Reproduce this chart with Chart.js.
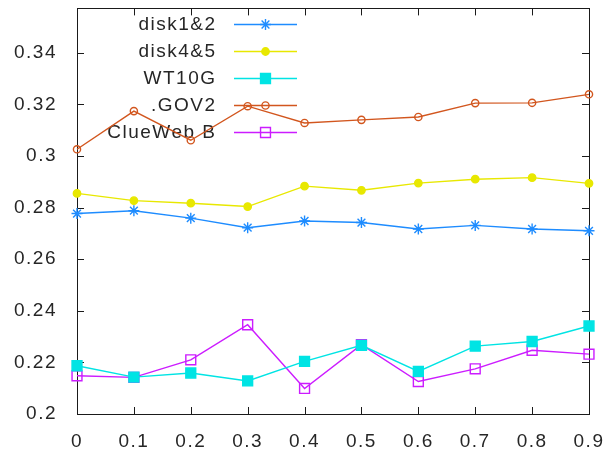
<!DOCTYPE html>
<html>
<head>
<meta charset="utf-8">
<script src="https://cdn.jsdelivr.net/npm/chart.js@4/dist/chart.umd.min.js"></script>
<style>
  html, body { margin: 0; padding: 0; background: #ffffff; }
  #wrap { width: 604px; height: 457px; }
</style>
</head>
<body>
<div id="wrap"><canvas id="chart" width="604" height="457"></canvas></div>
<script>
// x positions (parameter values) and y tick values
const xLabels = ['0', '0.1', '0.2', '0.3', '0.4', '0.5', '0.6', '0.7', '0.8', '0.9'];
const yTicks = [0.2, 0.22, 0.24, 0.26, 0.28, 0.3, 0.32, 0.34];

// one list per collection
const disk12   = [0.2777, 0.2788, 0.2759, 0.2722, 0.2748, 0.2742, 0.2717, 0.2731, 0.2717, 0.2710];
const disk45   = [0.2855, 0.2827, 0.2817, 0.2804, 0.2883, 0.2867, 0.2895, 0.2910, 0.2916, 0.2894];
const wt10g    = [0.2187, 0.2143, 0.2159, 0.2128, 0.2204, 0.2266, 0.2165, 0.2263, 0.2281, 0.2341];
const gov2     = [0.3026, 0.3174, 0.3061, 0.3193, 0.3128, 0.3140, 0.3151, 0.3205, 0.3206, 0.3239];
const clueWebB = [0.2148, 0.2142, 0.2210, 0.2346, 0.2099, 0.2269, 0.2126, 0.2175, 0.2247, 0.2232];

const seriesNames = ['disk1&2', 'disk4&5', 'WT10G', '.GOV2', 'ClueWeb B'];

const FONT = '"Liberation Sans", Arial, sans-serif';
const TEXT = '#262626';
const SPACING = '1.5px';

function series(label, data, color, style, radius, filled) {
  return {
    label, data,
    borderColor: color,
    backgroundColor: color,
    borderWidth: 1.4,
    pointStyle: style,
    pointRadius: radius,
    pointHoverRadius: radius,
    pointBorderWidth: 1.4,
    pointBorderColor: color,
    pointBackgroundColor: filled ? color : 'rgba(0,0,0,0)',
    tension: 0,
    clip: false
  };
}

// slightly wider letter spacing for all canvas text
const spacingPlugin = {
  id: 'spacing',
  beforeUpdate(chart) { chart.ctx.letterSpacing = SPACING; },
  beforeDraw(chart) { chart.ctx.letterSpacing = SPACING; }
};

// plot frame with inward tick marks on all four sides
const framePlugin = {
  id: 'frame',
  beforeDatasetsDraw(chart) {
    const { ctx, chartArea: a, scales } = chart;
    ctx.save();
    ctx.strokeStyle = '#1a1a1a';
    ctx.lineWidth = 1;
    ctx.strokeRect(Math.round(a.left) + 0.5, Math.round(a.top) + 0.5,
                   Math.round(a.right - a.left), Math.round(a.bottom - a.top));
    const t = 7;
    ctx.beginPath();
    yTicks.forEach(v => {
      const y = Math.round(scales.y.getPixelForValue(v)) + 0.5;
      ctx.moveTo(a.left, y); ctx.lineTo(a.left + t, y);
      ctx.moveTo(a.right, y); ctx.lineTo(a.right - t, y);
    });
    xLabels.forEach((_, i) => {
      const x = Math.round(scales.x.getPixelForValue(i)) + 0.5;
      ctx.moveTo(x, a.bottom); ctx.lineTo(x, a.bottom - t);
      ctx.moveTo(x, a.top); ctx.lineTo(x, a.top + t);
    });
    ctx.stroke();
    ctx.restore();
  }
};

// key: label text on the left, line sample with its marker on the right
const keyPlugin = {
  id: 'key',
  beforeDatasetsDraw(chart) {
    const { ctx, chartArea: a } = chart;
    const textRight = a.left + 139.5;
    const lineL = a.left + 157, lineR = a.left + 220;
    const top = 24, step = 27;
    ctx.save();
    ctx.font = '19px ' + FONT;
    ctx.textAlign = 'right';
    ctx.textBaseline = 'middle';
    chart.data.datasets.forEach((ds, i) => {
      const y = top + i * step;
      ctx.fillStyle = TEXT;
      ctx.fillText(ds.label, textRight, y + 1);
      ctx.strokeStyle = ds.borderColor;
      ctx.lineWidth = ds.borderWidth;
      ctx.beginPath();
      ctx.moveTo(lineL, y + 0.5); ctx.lineTo(lineR, y + 0.5);
      ctx.stroke();
      ctx.fillStyle = ds.pointBackgroundColor;
      ctx.strokeStyle = ds.pointBorderColor;
      ctx.lineWidth = ds.pointBorderWidth;
      Chart.helpers.drawPoint(ctx, {
        pointStyle: ds.pointStyle, radius: ds.pointRadius, rotation: 0,
        borderWidth: ds.pointBorderWidth
      }, (lineL + lineR) / 2, y + 0.5);
    });
    ctx.restore();
  }
};

new Chart(document.getElementById('chart'), {
  type: 'line',
  data: {
    labels: xLabels,
    datasets: [
      series(seriesNames[0], disk12,   '#1e8cff', 'star',   5.5, false),
      series(seriesNames[1], disk45,   '#e8e800', 'circle', 3.7, true),
      series(seriesNames[2], wt10g,    '#00e4e4', 'rect',   7,   true),
      series(seriesNames[3], gov2,     '#d2561e', 'circle', 3.6, false),
      series(seriesNames[4], clueWebB, '#cc1cff', 'rect',   7,   false)
    ]
  },
  options: {
    responsive: false,
    animation: false,
    devicePixelRatio: 1,
    layout: { padding: { top: 7, right: 15, left: 0, bottom: 0 } },
    plugins: { legend: { display: false }, tooltip: { enabled: false } },
    scales: {
      x: {
        type: 'category',
        offset: false,
        grid: { display: false, drawTicks: false },
        border: { display: false },
        ticks: {
          color: TEXT, font: { family: FONT, size: 19 },
          padding: 16, maxRotation: 0, autoSkip: false
        },
        afterFit(s) {
          s.height = 43;
          s.paddingLeft = 0; s.paddingRight = 0; s.paddingTop = 0; s.paddingBottom = 0;
        }
      },
      y: {
        min: 0.2,
        max: 0.3572,
        grid: { display: false, drawTicks: false },
        border: { display: false },
        afterBuildTicks(s) { s.ticks = yTicks.map(v => ({ value: v })); },
        ticks: {
          color: TEXT, font: { family: FONT, size: 19 },
          padding: 20,
          callback: v => String(Math.round(v * 100) / 100)
        },
        afterFit(s) {
          s.width = 77;
          s.paddingLeft = 0; s.paddingRight = 0; s.paddingTop = 0; s.paddingBottom = 0;
        }
      }
    }
  },
  plugins: [spacingPlugin, framePlugin, keyPlugin]
});
</script>
</body>
</html>
